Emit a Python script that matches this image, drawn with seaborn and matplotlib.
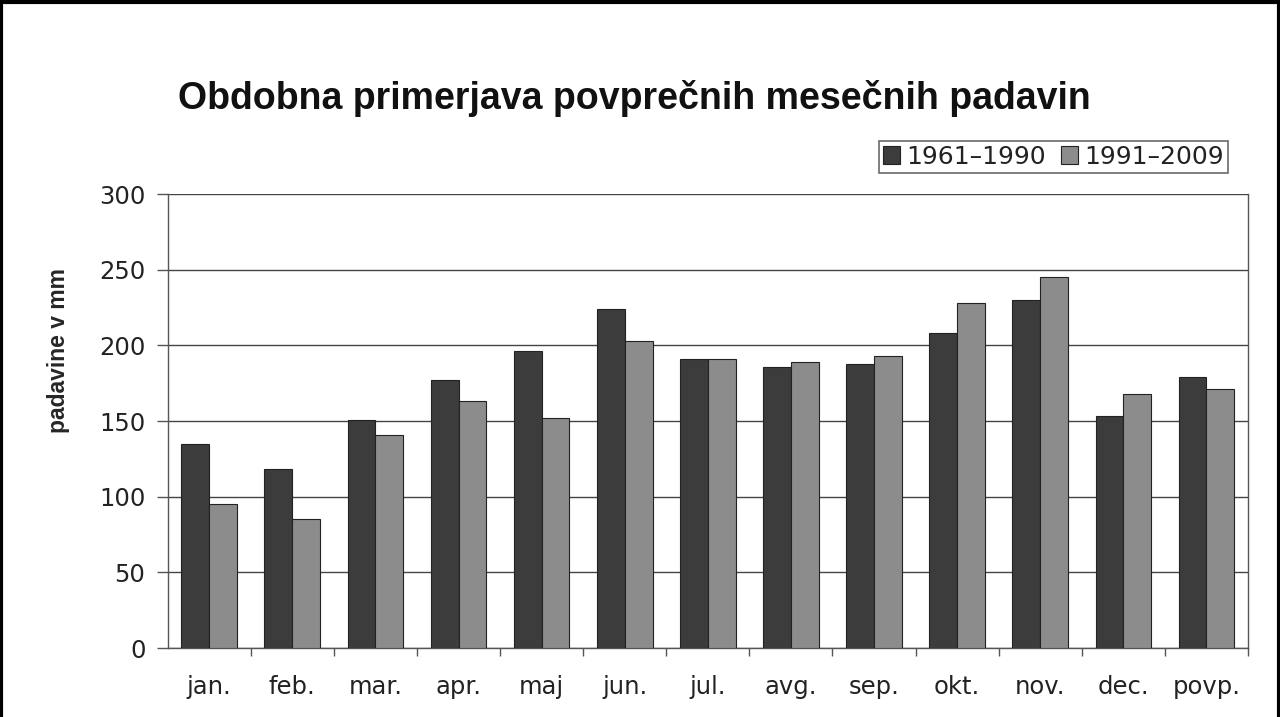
import pandas as pd
import numpy as np
import matplotlib.pyplot as plt
import seaborn as sns
from matplotlib.patches import Rectangle

months = ['jan.', 'feb.', 'mar.', 'apr.', 'maj', 'jun.', 'jul.', 'avg.', 'sep.', 'okt.', 'nov.', 'dec.', 'povp.']
p1961_1990 = [135, 118, 151, 177, 196, 224, 191, 186, 188, 208, 230, 153, 179]
p1991_2009 = [95, 85, 141, 163, 152, 203, 191, 189, 193, 228, 245, 168, 171]
series = ['1961–1990', '1991–2009']

df = pd.DataFrame({
    'mesec': months * 2,
    'padavine': p1961_1990 + p1991_2009,
    'obdobje': [series[0]] * len(months) + [series[1]] * len(months),
})

sns.set_style('white')
plt.rcParams['font.family'] = ['DejaVu Sans']
plt.rcParams['text.color'] = '#222222'

fig = plt.figure(figsize=(12.8, 7.17), dpi=100)
ax = fig.add_axes([0.131, 0.0962, 0.844, 0.6332])

sns.barplot(data=df, x='mesec', y='padavine', hue='obdobje', order=months,
            palette=['#3c3c3c', '#8c8c8c'], width=0.67, edgecolor='#222222',
            linewidth=0.8, ax=ax, zorder=3)

ax.set_ylim(0, 300)
ax.set_xlim(-0.5, len(months) - 0.5)
ax.set_yticks(range(0, 301, 50))
ax.yaxis.grid(True, color='#444444', linewidth=1.0, zorder=0)
ax.set_axisbelow(True)
for s in ['left', 'bottom', 'right']:
    ax.spines[s].set_visible(True)
    ax.spines[s].set_color('#555555')
    ax.spines[s].set_linewidth(1.0)
ax.spines['top'].set_visible(False)

ax.tick_params(axis='y', which='major', left=True, length=8, width=1, color='#555555',
               labelsize=17.5, pad=8, labelcolor='#222222')
ax.tick_params(axis='x', which='major', bottom=False, labelsize=17.5, pad=16, labelcolor='#222222')
ax.set_xticks(np.arange(len(months)) + 0.5, minor=True)
ax.tick_params(axis='x', which='minor', bottom=True, length=6, width=1, color='#555555')

ax.set_xlabel('')
ax.set_ylabel('padavine v mm', fontsize=16.5, fontweight='bold', family='Liberation Sans')
ax.yaxis.set_label_coords(-0.09, 0.656)

leg = ax.legend(loc='lower right', bbox_to_anchor=(0.9815, 1.047), ncol=2, fontsize=18,
                frameon=True, fancybox=False, edgecolor='#444444', handlelength=0.7,
                handleheight=0.7, columnspacing=0.6, handletextpad=0.25,
                borderpad=0.15, borderaxespad=0)
leg.get_frame().set_linewidth(1.2)
leg.set_title(None)

fig.text(0.139, 0.862, 'Obdobna primerjava povprečnih mesečnih padavin', fontsize=27,
         fontweight='bold', family='Liberation Sans', color='#111111',
         va='center', ha='left')

fig.add_artist(Rectangle((0.001, -0.1), 0.998, 1.097, transform=fig.transFigure,
                         fill=False, edgecolor='black', linewidth=3))

plt.savefig('out.png', dpi=100)
